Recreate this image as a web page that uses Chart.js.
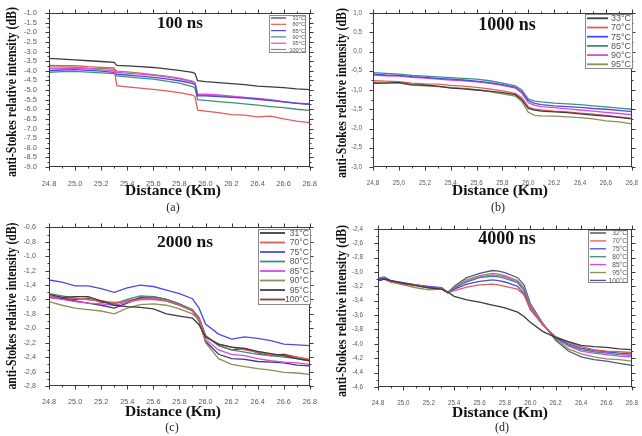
<!DOCTYPE html>
<html><head><meta charset="utf-8">
<script src="https://cdn.jsdelivr.net/npm/chart.js@4.4.1/dist/chart.umd.min.js"></script>
<style>
html,body{margin:0;padding:0;background:#fff;}
#wrap{position:relative;width:642px;height:436px;overflow:hidden;background:#fff;}
.cell{position:absolute;width:321px;height:218px;}
canvas{display:block;}
</style></head><body>
<div id="wrap">
<div class="cell" style="left:0;top:0"><canvas id="ca" width="321" height="218"></canvas></div>
<div class="cell" style="left:321px;top:0"><canvas id="cb" width="321" height="218"></canvas></div>
<div class="cell" style="left:0;top:218px"><canvas id="cc" width="321" height="218"></canvas></div>
<div class="cell" style="left:321px;top:218px"><canvas id="cd" width="321" height="218"></canvas></div>
</div>
<script>
// ---------------- DATA ----------------
const xTicks = [24.8, 25.0, 25.2, 25.4, 25.6, 25.8, 26.0, 26.2, 26.4, 26.6, 26.8];
const xLabelsDot = ['24.8','25.0','25.2','25.4','25.6','25.8','26.0','26.2','26.4','26.6','26.8'];
const xLabelsComma = ['24,8','25,0','25,2','25,4','25,6','25,8','26,0','26,2','26,4','26,6','26,8'];

// (a) 100 ns
const xA = [24.8, 24.9, 25.0, 25.1, 25.2, 25.3, 25.32, 25.4, 25.5, 25.6, 25.7, 25.8, 25.9, 25.92, 25.94, 26.0, 26.1, 26.2, 26.3, 26.4, 26.5, 26.6, 26.7, 26.8];
const tempsA = ['31°C','80°C','85°C','90°C','95°C','100°C'];
const a31  = [-3.36,-3.40,-3.44,-3.48,-3.52,-3.56,-3.72,-3.75,-3.79,-3.83,-3.90,-3.98,-4.08,-4.14,-4.52,-4.57,-4.62,-4.67,-4.72,-4.80,-4.84,-4.88,-4.94,-4.98];
const a80  = [-3.72,-3.73,-3.74,-3.79,-3.82,-3.85,-4.78,-4.84,-4.90,-4.97,-5.05,-5.14,-5.26,-5.34,-6.05,-6.10,-6.18,-6.28,-6.30,-6.40,-6.36,-6.50,-6.62,-6.70];
const a85  = [-4.00,-3.96,-3.94,-3.98,-4.02,-4.08,-4.18,-4.22,-4.28,-4.34,-4.42,-4.52,-4.66,-4.72,-5.30,-5.31,-5.34,-5.38,-5.42,-5.48,-5.55,-5.62,-5.70,-5.74];
const a90  = [-4.08,-4.05,-4.03,-4.07,-4.11,-4.15,-4.26,-4.32,-4.38,-4.44,-4.54,-4.64,-4.82,-4.90,-5.50,-5.54,-5.60,-5.66,-5.72,-5.79,-5.86,-5.92,-6.00,-6.06];
const a95  = [-3.90,-3.88,-3.86,-3.90,-3.95,-3.99,-4.08,-4.12,-4.18,-4.24,-4.32,-4.42,-4.58,-4.64,-5.22,-5.22,-5.26,-5.32,-5.38,-5.44,-5.50,-5.60,-5.68,-5.72];
const a100 = [-3.80,-3.80,-3.82,-3.86,-3.88,-3.92,-4.02,-4.06,-4.12,-4.20,-4.28,-4.38,-4.54,-4.62,-5.26,-5.28,-5.31,-5.36,-5.40,-5.46,-5.53,-5.62,-5.68,-5.75];
const yTicksA = [-9.0,-8.5,-8.0,-7.5,-7.0,-6.5,-6.0,-5.5,-5.0,-4.5,-4.0,-3.5,-3.0,-2.5,-2.0,-1.5,-1.0];
const yLabelsA = ['-9.0','-8.5','-8.0','-7.5','-7.0','-6.5','-6.0','-5.5','-5.0','-4.5','-4.0','-3.5','-3.0','-2.5','-2.0','-1.5','-1.0'];

// (b) 1000 ns
const xB = [24.8, 24.9, 25.0, 25.1, 25.2, 25.3, 25.4, 25.5, 25.6, 25.7, 25.8, 25.9, 25.95, 26.0, 26.05, 26.1, 26.2, 26.3, 26.4, 26.5, 26.6, 26.7, 26.8];
const tempsB = ['33°C','70°C','75°C','85°C','90°C','95°C'];
const b33 = [-0.83,-0.82,-0.80,-0.86,-0.87,-0.90,-0.95,-0.97,-1.00,-1.03,-1.07,-1.12,-1.25,-1.48,-1.52,-1.55,-1.57,-1.59,-1.62,-1.65,-1.68,-1.71,-1.75];
const b70 = [-0.76,-0.77,-0.78,-0.82,-0.84,-0.85,-0.88,-0.90,-0.93,-0.97,-1.02,-1.09,-1.20,-1.44,-1.50,-1.52,-1.55,-1.57,-1.60,-1.63,-1.66,-1.70,-1.74];
const b75 = [-0.59,-0.61,-0.62,-0.65,-0.67,-0.70,-0.72,-0.74,-0.77,-0.81,-0.86,-0.93,-1.05,-1.28,-1.35,-1.38,-1.41,-1.43,-1.45,-1.48,-1.50,-1.53,-1.56];
const b85 = [-0.55,-0.57,-0.59,-0.62,-0.64,-0.66,-0.68,-0.70,-0.72,-0.76,-0.82,-0.89,-1.00,-1.24,-1.29,-1.31,-1.34,-1.36,-1.38,-1.41,-1.44,-1.47,-1.50];
const b90 = [-0.61,-0.63,-0.64,-0.67,-0.69,-0.72,-0.74,-0.76,-0.79,-0.83,-0.88,-0.95,-1.08,-1.33,-1.40,-1.43,-1.46,-1.49,-1.52,-1.55,-1.58,-1.61,-1.64];
const b95 = [-0.80,-0.81,-0.82,-0.87,-0.89,-0.91,-0.93,-0.96,-0.99,-1.04,-1.10,-1.16,-1.30,-1.58,-1.66,-1.67,-1.68,-1.70,-1.72,-1.75,-1.80,-1.83,-1.88];
const yTicksB = [-3.0,-2.5,-2.0,-1.5,-1.0,-0.5,0.0,0.5,1.0];
const yLabelsB = ['-3,0','-2,5','-2,0','-1,5','-1,0','-0,5','0,0','0,5','1,0'];

// (c) 2000 ns
const xC = [24.8, 24.9, 25.0, 25.1, 25.2, 25.3, 25.4, 25.5, 25.6, 25.7, 25.8, 25.9, 25.95, 26.0, 26.1, 26.2, 26.3, 26.4, 26.5, 26.6, 26.7, 26.8];
const tempsC = ['31°C','70°C','75°C','80°C','85°C','90°C','95°C','100°C'];
const c31  = [-1.53,-1.57,-1.56,-1.56,-1.62,-1.68,-1.70,-1.71,-1.73,-1.80,-1.83,-1.86,-1.95,-2.12,-2.22,-2.26,-2.28,-2.32,-2.35,-2.38,-2.42,-2.45];
const c70  = [-1.56,-1.57,-1.58,-1.60,-1.62,-1.64,-1.63,-1.60,-1.60,-1.62,-1.68,-1.76,-1.86,-2.12,-2.22,-2.26,-2.30,-2.33,-2.36,-2.38,-2.40,-2.43];
const c75  = [-1.33,-1.36,-1.41,-1.41,-1.45,-1.50,-1.44,-1.40,-1.42,-1.47,-1.52,-1.59,-1.72,-1.94,-2.08,-2.15,-2.12,-2.14,-2.17,-2.22,-2.23,-2.24];
const c80  = [-1.52,-1.55,-1.58,-1.60,-1.62,-1.66,-1.60,-1.55,-1.56,-1.60,-1.66,-1.74,-1.85,-2.10,-2.24,-2.30,-2.33,-2.36,-2.38,-2.40,-2.42,-2.45];
const c85  = [-1.57,-1.60,-1.63,-1.65,-1.66,-1.68,-1.64,-1.60,-1.59,-1.62,-1.68,-1.76,-1.86,-2.15,-2.30,-2.36,-2.38,-2.42,-2.45,-2.47,-2.48,-2.50];
const c90  = [-1.63,-1.68,-1.72,-1.74,-1.76,-1.80,-1.72,-1.67,-1.66,-1.68,-1.73,-1.80,-1.88,-2.20,-2.42,-2.50,-2.53,-2.56,-2.58,-2.61,-2.62,-2.64];
const c95  = [-1.57,-1.59,-1.62,-1.65,-1.68,-1.72,-1.65,-1.57,-1.56,-1.60,-1.66,-1.76,-1.90,-2.18,-2.36,-2.42,-2.43,-2.46,-2.47,-2.48,-2.51,-2.52];
const c100 = [-1.55,-1.58,-1.60,-1.58,-1.64,-1.65,-1.62,-1.58,-1.58,-1.62,-1.68,-1.75,-1.85,-2.10,-2.24,-2.30,-2.28,-2.34,-2.38,-2.36,-2.40,-2.44];
const yTicksC = [-2.8,-2.6,-2.4,-2.2,-2.0,-1.8,-1.6,-1.4,-1.2,-1.0,-0.8,-0.6];
const yLabelsC = ['-2,8','-2,6','-2,4','-2,2','-2,0','-1,8','-1,6','-1,4','-1,2','-1,0','-0,8','-0,6'];

// (d) 4000 ns
const xD = [24.8, 24.85, 24.9, 25.0, 25.1, 25.2, 25.3, 25.35, 25.4, 25.5, 25.6, 25.7, 25.75, 25.8, 25.9, 25.95, 26.0, 26.1, 26.2, 26.3, 26.4, 26.5, 26.6, 26.7, 26.8];
const tempsD = ['32°C','70°C','75°C','80°C','85°C','95°C','100°C'];
const d32  = [-3.12,-3.10,-3.12,-3.16,-3.19,-3.22,-3.24,-3.28,-3.34,-3.39,-3.42,-3.46,-3.48,-3.50,-3.56,-3.62,-3.70,-3.83,-3.91,-3.97,-4.02,-4.04,-4.05,-4.07,-4.08];
const d70  = [-3.12,-3.10,-3.14,-3.17,-3.18,-3.22,-3.23,-3.29,-3.26,-3.21,-3.18,-3.17,-3.18,-3.20,-3.24,-3.32,-3.52,-3.74,-3.90,-3.98,-4.04,-4.08,-4.10,-4.11,-4.12];
const d75  = [-3.10,-3.09,-3.12,-3.16,-3.18,-3.20,-3.22,-3.29,-3.24,-3.17,-3.13,-3.11,-3.12,-3.14,-3.20,-3.30,-3.52,-3.74,-3.91,-4.00,-4.06,-4.09,-4.11,-4.13,-4.14];
const d80  = [-3.11,-3.09,-3.13,-3.16,-3.19,-3.22,-3.22,-3.29,-3.22,-3.14,-3.08,-3.06,-3.07,-3.09,-3.15,-3.26,-3.50,-3.74,-3.92,-4.02,-4.08,-4.11,-4.13,-4.15,-4.16];
const d85  = [-3.12,-3.10,-3.13,-3.17,-3.18,-3.21,-3.22,-3.29,-3.23,-3.13,-3.07,-3.04,-3.05,-3.07,-3.14,-3.25,-3.48,-3.73,-3.92,-4.03,-4.10,-4.13,-4.15,-4.17,-4.18];
const d95  = [-3.10,-3.08,-3.14,-3.18,-3.22,-3.25,-3.24,-3.29,-3.21,-3.11,-3.05,-3.02,-3.03,-3.05,-3.12,-3.22,-3.46,-3.72,-3.93,-4.07,-4.14,-4.18,-4.21,-4.22,-4.24];
const d100 = [-3.09,-3.07,-3.12,-3.15,-3.18,-3.21,-3.22,-3.29,-3.20,-3.08,-3.02,-2.98,-2.99,-3.01,-3.08,-3.18,-3.44,-3.72,-3.95,-4.10,-4.18,-4.22,-4.24,-4.27,-4.30];
const yTicksD = [-4.6,-4.4,-4.2,-4.0,-3.8,-3.6,-3.4,-3.2,-3.0,-2.8,-2.6,-2.4];
const yLabelsD = ['-4,6','-4,4','-4,2','-4,0','-3,8','-3,6','-3,4','-3,2','-3,0','-2,8','-2,6','-2,4'];

const yTitle = 'anti-Stokes relative intensity (dB)';
const xTitle = 'Distance (Km)';

// ---------------- STYLE / LAYOUT ----------------
const K='#3d3d3d', R='#e85a5a', B='#4b4be6', T='#3f8f7a', M='#e045e8', O='#8e8e5a', N='#3c3c78', BR='#8c4040', NG='#55557f';

const panels = [
 { id:'ca', x:xA, series:[a31,a80,a85,a90,a95,a100], temps:tempsA, colors:[K,R,B,T,M,O],
   yTicks:yTicksA, yLabels:yLabelsA, xLabels:xLabelsDot, ymin:-9, ymax:-1,
   lay:{left:49,right:9,top:13,bottom:51}, tickFont:7.5, ypad:4, xpad:4,
   title:'100 ns', tpos:[180,24,17], ytpos:[12,92,170], xtpos:[173,191], cap:'(a)', cpos:[173,208],
   leg:{x:269,y:15,w:37,h:38,first:18,step:6.3,font:5.6,l0:271,l1:286,tr:305,lw:1.2} },
 { id:'cb', x:xB, series:[b33,b70,b75,b85,b90,b95], temps:tempsB, colors:[K,R,B,T,M,O],
   yTicks:yTicksB, yLabels:yLabelsB, xLabels:xLabelsComma, ymin:-3, ymax:1,
   lay:{left:52,right:7,top:13,bottom:51}, tickFont:6.3, ypad:3, xpad:4,
   title:'1000 ns', tpos:[186,25,18], ytpos:[21,93,170], xtpos:[179,191], cap:'(b)', cpos:[177,208],
   leg:{x:264,y:14,w:48,h:55,first:18.3,step:9.2,font:9,l0:266,l1:287,tr:310,lw:1.8} },
 { id:'cc', x:xC, series:[c31,c70,c75,c80,c85,c90,c95,c100], temps:tempsC, colors:[K,R,B,T,M,O,N,BR],
   yTicks:yTicksC, yLabels:yLabelsC, xLabels:xLabelsDot, ymin:-2.8, ymax:-0.6,
   lay:{left:49,right:9,top:8,bottom:50}, tickFont:7.3, ypad:5, xpad:4,
   title:'2000 ns', tpos:[185,24,17.5], ytpos:[12,88,167], xtpos:[173,194], cap:'(c)', cpos:[172,210],
   leg:{x:258,y:11,w:53,h:76,first:15,step:9.5,font:8.6,l0:260,l1:285,tr:309,lw:1.8} },
 { id:'cd', x:xD, series:[d32,d70,d75,d80,d85,d95,d100], temps:tempsD, colors:[K,R,B,T,M,O,NG],
   yTicks:yTicksD, yLabels:yLabelsD, xLabels:xLabelsDot, ymin:-4.6, ymax:-2.4,
   lay:{left:57,right:9,top:8,bottom:49}, tickFont:6.3, ypad:7, xpad:4,
   title:'4000 ns', tpos:[186,21,18], ytpos:[21,93,172], xtpos:[179,195], cap:'(d)', cpos:[181,210],
   leg:{x:267,y:12,w:40,h:53,first:15,step:7.9,font:6.6,l0:269,l1:285,tr:306,lw:1.3} }
];

const SERIF = '"Liberation Serif","Times New Roman",serif';
const SANS = '"Liberation Sans",Arial,sans-serif';

function makeDecor(p){
  return {
    id:'decor_'+p.id,
    afterDraw(chart){
      const ctx=chart.ctx, ca=chart.chartArea, xs=chart.scales.x, ys=chart.scales.y;
      ctx.save();
      const L=Math.round(ca.left)+0.5, Rr=Math.round(ca.right)-0.5, Tp=Math.round(ca.top)+0.5, Bt=Math.round(ca.bottom)-0.5;
      ctx.strokeStyle='#3a3a3a'; ctx.lineWidth=1;
      ctx.strokeRect(L,Tp,Rr-L,Bt-Tp);
      ctx.beginPath();
      xTicks.forEach((v,i)=>{
        const px=Math.round(xs.getPixelForValue(v))+0.5;
        ctx.moveTo(px,Bt); ctx.lineTo(px,Bt+4); ctx.moveTo(px,Tp); ctx.lineTo(px,Tp-4);
        if(i<xTicks.length-1){
          const m=Math.round(xs.getPixelForValue((v+xTicks[i+1])/2))+0.5;
          ctx.moveTo(m,Bt); ctx.lineTo(m,Bt+2); ctx.moveTo(m,Tp); ctx.lineTo(m,Tp-2);
        }
      });
      p.yTicks.forEach((v,i)=>{
        const py=Math.round(ys.getPixelForValue(v))+0.5;
        ctx.moveTo(L,py); ctx.lineTo(L-4,py); ctx.moveTo(Rr,py); ctx.lineTo(Rr+4,py);
        if(i<p.yTicks.length-1){
          const m=Math.round(ys.getPixelForValue((v+p.yTicks[i+1])/2))+0.5;
          ctx.moveTo(L,m); ctx.lineTo(L-2,m); ctx.moveTo(Rr,m); ctx.lineTo(Rr+2,m);
        }
      });
      ctx.stroke();

      const g=p.leg;
      ctx.fillStyle='#fff'; ctx.fillRect(g.x,g.y,g.w,g.h);
      ctx.strokeStyle='#8a8a8a'; ctx.lineWidth=1;
      ctx.strokeRect(g.x+0.5,g.y+0.5,g.w-1,g.h-1);
      ctx.font=g.font+'px '+SANS; ctx.textAlign='right'; ctx.textBaseline='middle';
      p.temps.forEach((t,i)=>{
        const yy=g.first+i*g.step;
        ctx.strokeStyle=p.colors[i]; ctx.lineWidth=g.lw;
        ctx.beginPath(); ctx.moveTo(g.l0,yy); ctx.lineTo(g.l1,yy); ctx.stroke();
        ctx.fillStyle='#555'; ctx.fillText(t,g.tr,yy+0.5);
      });

      ctx.fillStyle='#111'; ctx.textAlign='center'; ctx.textBaseline='middle';
      ctx.font='bold '+p.tpos[2]+'px '+SERIF;
      ctx.fillText(p.title,p.tpos[0],p.tpos[1]);
      ctx.font='bold 15.5px '+SERIF;
      ctx.fillText(xTitle,p.xtpos[0],p.xtpos[1]);
      ctx.fillStyle='#222';
      ctx.font='12px '+SERIF;
      ctx.fillText(p.cap,p.cpos[0],p.cpos[1]);
      ctx.save();
      ctx.translate(p.ytpos[0],p.ytpos[1]);
      ctx.rotate(-Math.PI/2);
      ctx.fillStyle='#111';
      ctx.font='bold 15px '+SERIF;
      ctx.fillText(yTitle,0,0,p.ytpos[2]);
      ctx.restore();
      ctx.restore();
    }
  };
}

panels.forEach(p=>{
  const datasets = p.series.map((s,i)=>({
    label:p.temps[i],
    data:p.x.map((x,j)=>({x:x,y:s[j]})),
    borderColor:p.colors[i],
    borderWidth:1.3,
    pointRadius:0,
    tension:0,
    fill:false
  }));
  new Chart(document.getElementById(p.id),{
    type:'line',
    data:{datasets},
    options:{
      responsive:false, animation:false, events:[],
      layout:{padding:{top:p.lay.top,right:p.lay.right,left:0,bottom:0}},
      plugins:{legend:{display:false},tooltip:{enabled:false},title:{display:false}},
      scales:{
        x:{type:'linear',min:24.8,max:26.8,
           grid:{display:false},border:{display:false},
           afterBuildTicks:(s)=>{s.ticks=xTicks.map(v=>({value:v}));},
           afterFit:(s)=>{s.height=p.lay.bottom;},
           ticks:{autoSkip:false,maxRotation:0,padding:p.xpad,color:'#5a5a5a',
                  font:{size:p.tickFont,family:SANS},
                  callback:(v,i)=>p.xLabels[i]}},
        y:{type:'linear',min:p.ymin,max:p.ymax,
           grid:{display:false},border:{display:false},
           afterBuildTicks:(s)=>{s.ticks=p.yTicks.map(v=>({value:v}));},
           afterFit:(s)=>{s.width=p.lay.left;},
           ticks:{autoSkip:false,padding:p.ypad,color:'#5a5a5a',
                  font:{size:p.tickFont,family:SANS},
                  callback:(v,i)=>p.yLabels[i]}}
      }
    },
    plugins:[makeDecor(p)]
  });
});
</script>
</body></html>
